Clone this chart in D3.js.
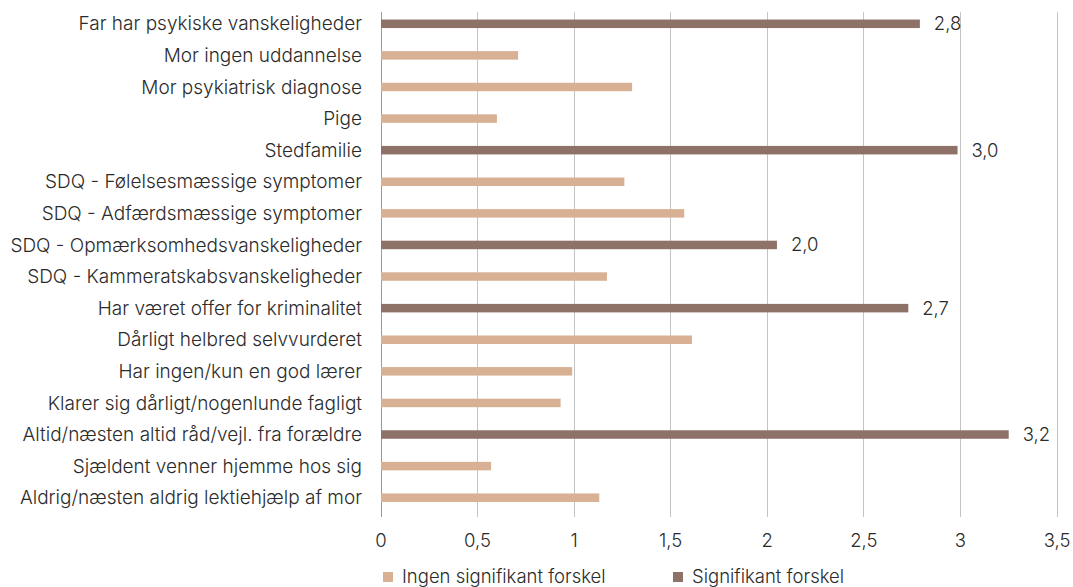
<!DOCTYPE html>
<html><head><meta charset="utf-8">
<script src="https://cdn.jsdelivr.net/npm/d3@7"></script>
<style>body{margin:0;background:#fff}svg{display:block;font-family:Inter,"Open Sans",sans-serif}</style>
</head><body><svg id="c" width="1073" height="587"></svg>
<script>
const categories = ["Far har psykiske vanskeligheder","Mor ingen uddannelse","Mor psykiatrisk diagnose","Pige","Stedfamilie","SDQ - Følelsesmæssige symptomer","SDQ - Adfærdsmæssige symptomer","SDQ - Opmærksomhedsvanskeligheder","SDQ - Kammeratskabsvanskeligheder","Har været offer for kriminalitet","Dårligt helbred selvvurderet","Har ingen/kun en god lærer","Klarer sig dårligt/nogenlunde fagligt","Altid/næsten altid råd/vejl. fra forældre","Sjældent venner hjemme hos sig","Aldrig/næsten aldrig lektiehjælp af mor"];
const values = [2.79,0.71,1.30,0.60,2.985,1.26,1.57,2.05,1.17,2.73,1.61,0.99,0.93,3.25,0.57,1.13];
const significant = [1,0,0,0,1,0,0,1,0,1,0,0,0,1,0,0];
const valueLabels = ["2,8","","","","3,0","","","2,0","","2,7","","","","3,2","",""];
const ticks = [0,0.5,1,1.5,2,2.5,3,3.5];
const tickLabels = ["0","0,5","1","1,5","2","2,5","3","3,5"];
const seriesNames = ["Ingen signifikant forskel","Signifikant forskel"];
const colors = ["#D8B194","#8E7167"];

const svg = d3.select("#c");
const x = d3.scaleLinear().domain([0,3.5]).range([381,1057]);
const y = d3.scaleBand().domain(categories).range([8,513.5]);
const txt = "#2b2b2b";
const fs = 18.5;

// grid
svg.append("g").selectAll("line").data(ticks).join("line")
  .attr("x1",d=>x(d)).attr("x2",d=>x(d)).attr("y1",12).attr("y2",517)
  .attr("stroke",d=>d===0?"#9a9a9a":"#c4c4c4").attr("stroke-width",1).attr("shape-rendering","crispEdges");

// tick labels
svg.append("g").selectAll("text").data(ticks).join("text")
  .attr("x",d=>x(d)).attr("y",541).attr("dy","0.35em").attr("text-anchor","middle")
  .attr("font-size",fs).attr("font-weight",300).attr("fill",txt)
  .text((d,i)=>tickLabels[i]);

// bars
const bh = 8.5;
svg.append("g").selectAll("rect").data(values).join("rect")
  .attr("x",x(0)).attr("y",(d,i)=>y(categories[i])+y.bandwidth()/2-bh/2)
  .attr("width",d=>x(d)-x(0)).attr("height",bh)
  .attr("fill",(d,i)=>colors[significant[i]]);

// category labels
svg.append("g").selectAll("text").data(categories).join("text")
  .attr("x",362).attr("y",d=>y(d)+y.bandwidth()/2).attr("dy","0.35em")
  .attr("text-anchor","end").attr("font-size",19).attr("font-weight",300).attr("fill",txt)
  .text(d=>d);

// value labels
svg.append("g").selectAll("text").data(values).join("text")
  .attr("x",d=>x(d)+14).attr("y",(d,i)=>y(categories[i])+y.bandwidth()/2).attr("dy","0.35em")
  .attr("font-size",fs).attr("font-weight",300).attr("fill",txt)
  .text((d,i)=>valueLabels[i]);

// legend
const lx = [383,673];
const lg = svg.append("g").selectAll("g").data(seriesNames).join("g")
  .attr("transform",(d,i)=>`translate(${lx[i]},577)`);
lg.append("rect").attr("x",0).attr("y",-5).attr("width",10).attr("height",10).attr("fill",(d,i)=>colors[i]);
lg.append("text").attr("x",19).attr("y",0).attr("dy","0.35em").attr("font-size",fs).attr("font-weight",300).attr("fill",txt).text(d=>d);
</script></body></html>
